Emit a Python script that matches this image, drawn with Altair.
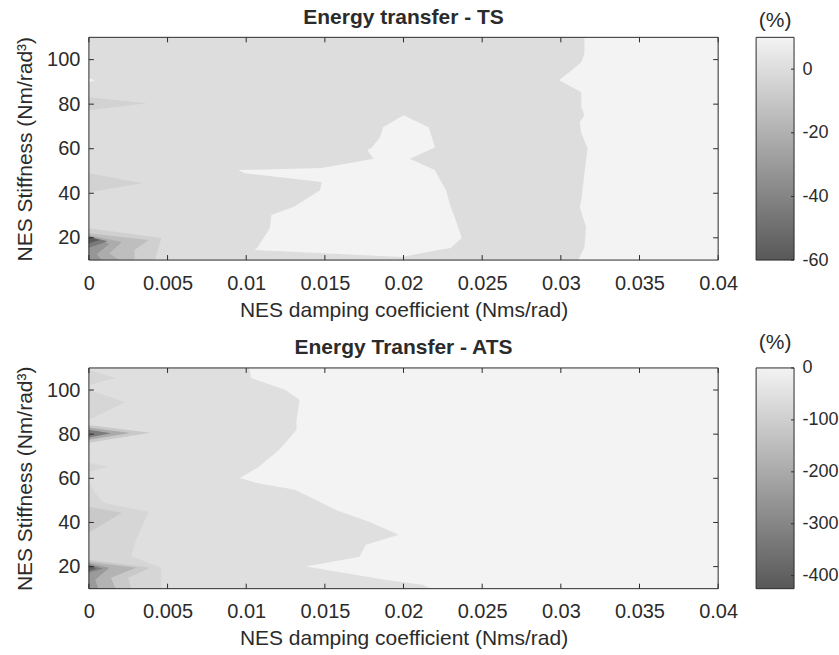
import altair as alt
import pandas as pd

FONT = "Liberation Sans"
INK = "#2b2b2b"
DARK, LIGHT = "#585858", "#f3f3f3"

# Shared axes
DAMPING_DOMAIN = [0, 0.04]
STIFF_DOMAIN = [10, 110]
X_TICKS = [0, 0.005, 0.01, 0.015, 0.02, 0.025, 0.03, 0.035, 0.04]
Y_TICKS = [20, 40, 60, 80, 100]

# Colour bar ranges (%)
TS_CBAR = [-60, 10]
TS_CBAR_TICKS = [0, -20, -40, -60]
ATS_CBAR = [-425, 0]
ATS_CBAR_TICKS = [0, -100, -200, -300, -400]

# ---- Energy transfer - TS : filled contour bands ----
# each band: stiffness breakpoints (k), damping extent, band value (%)
TS_BG_LEVEL = 0

TS_EDGE_K = [10, 15.8, 24.8, 29.3, 33.8, 36.9, 49.0, 60.2, 67.0, 71.9, 75.0,
             78.6, 85.3, 90.7, 98.8, 102.8, 110]
TS_EDGE_X = [0.0311, 0.0315, 0.0316, 0.0314, 0.0312, 0.0313, 0.0315, 0.0317,
             0.0313, 0.0312, 0.0315, 0.0313, 0.0313, 0.0299, 0.0313, 0.0315, 0.0315]
TS_EDGE_LEVEL = 10

TS_BLOB_K = [11.4, 14.5, 15.4, 19.9, 24.3, 30.2, 33.8, 41.4, 45.0, 49.0, 50.4,
             51.3, 55.5, 59.3, 60.7, 65.2, 69.6, 75.0]
TS_BLOB_LO = [0.0199, 0.0105, 0.0107, 0.0111, 0.0115, 0.0116, 0.0130, 0.0147,
              0.0148, 0.0099, 0.0095, 0.0148, 0.0181, 0.0177, 0.0180, 0.0185,
              0.0187, 0.0200]
TS_BLOB_HI = [0.0199, 0.0222, 0.0230, 0.0237, 0.0235, 0.0232, 0.0230, 0.0227,
              0.0224, 0.0221, 0.0220, 0.0217, 0.0204, 0.0216, 0.0220, 0.0218,
              0.0216, 0.0200]
TS_BLOB_LEVEL = 10

TS_NOTCH_K, TS_NOTCH_X, TS_NOTCH_LEVEL = [89.8, 90.7, 91.6], [0, 0.0004, 0], 10
TS_SPIKE80_K, TS_SPIKE80_X, TS_SPIKE80_LEVEL = [77.3, 80.4, 83.1], [0, 0.0037, 0], -5
TS_SPIKE45_K, TS_SPIKE45_X, TS_SPIKE45_LEVEL = [40.5, 44.5, 49.0], [0, 0.0034, 0], -5

TS_LOW1_K, TS_LOW1_X, TS_LOW1_LEVEL = [10, 19.9, 24.3], [0.0042, 0.0046, 0], -6
TS_LOW2_K, TS_LOW2_X, TS_LOW2_LEVEL = [10, 14.5, 19.0, 22.1], [0.0029, 0.0029, 0.0038, 0], -14
TS_LOW3_K, TS_LOW3_X, TS_LOW3_LEVEL = [10, 13.1, 18.1, 21.2], [0.0019, 0.0013, 0.0021, 0], -22
TS_LOW4_K, TS_LOW4_X, TS_LOW4_LEVEL = [10, 12.7, 17.2, 20.8], [0.0008, 0.0005, 0.0013, 0], -32
TS_LOW5_K, TS_LOW5_X, TS_LOW5_LEVEL = [15.5, 18.5, 20.6], [0, 0.0012, 0], -45
TS_LOW6_K, TS_LOW6_X, TS_LOW6_LEVEL = [17.5, 19.0, 20.3], [0, 0.0007, 0], -58

# ---- Energy Transfer - ATS : filled contour bands ----
ATS_BG_LEVEL = -55

ATS_EDGE_K = [10, 11.8, 14.1, 20.0, 24.5, 29.9, 34.4, 40.3, 45.7, 54.8, 58.0,
              60.2, 65.2, 72.9, 82.0, 86.5, 95.5, 100.0, 105.5, 110]
ATS_EDGE_X = [0.0218, 0.0212, 0.0188, 0.0138, 0.0172, 0.0176, 0.0197, 0.0178,
              0.0157, 0.0131, 0.0106, 0.0096, 0.0108, 0.0121, 0.0132, 0.0132,
              0.0134, 0.0125, 0.0103, 0.0102]
ATS_EDGE_LEVEL = 0

ATS_SIDE_K = [10, 19.5, 24.8, 32.2, 44.8, 48.9, 53.4, 58.0]
ATS_SIDE_X = [0.0046, 0.0046, 0.0027, 0.0030, 0.0038, 0.0009, 0.0004, 0]
ATS_SIDE_LEVEL = -80

ATS_S105_K, ATS_S105_X, ATS_S105_LEVEL = [102.3, 105.5, 109.1], [0, 0.0017, 0], -80
ATS_S95_K, ATS_S95_X, ATS_S95_LEVEL = [86.5, 94.6, 100.0], [0, 0.0023, 0], -80
ATS_S80A_K, ATS_S80A_X, ATS_S80A_LEVEL = [76.1, 80.6, 84.2], [0, 0.0039, 0], -115
ATS_S80B_K, ATS_S80B_X, ATS_S80B_LEVEL = [77.5, 80.5, 83.0], [0, 0.0026, 0], -200
ATS_S80C_K, ATS_S80C_X, ATS_S80C_LEVEL = [78.5, 80.4, 82.0], [0, 0.0014, 0], -330
ATS_S65_K, ATS_S65_X, ATS_S65_LEVEL = [62.9, 65.2, 67.0], [0, 0.0012, 0], -80
ATS_S45_K, ATS_S45_X, ATS_S45_LEVEL = [35.3, 44.4, 47.1], [0, 0.0021, 0], -115

ATS_LOW1_K, ATS_LOW1_X, ATS_LOW1_LEVEL = [10, 15.0, 19.5, 23.1], [0.0027, 0.0025, 0.0039, 0], -115
ATS_LOW2_K, ATS_LOW2_X, ATS_LOW2_LEVEL = [10, 15.0, 19.5, 22.2], [0.0017, 0.0014, 0.0030, 0], -175
ATS_LOW3_K, ATS_LOW3_X, ATS_LOW3_LEVEL = [10, 14.1, 19.5, 21.5], [0.0006, 0.0004, 0.0013, 0], -245
ATS_LOW4_K, ATS_LOW4_X, ATS_LOW4_LEVEL = [17.3, 19.0, 20.9], [0, 0.0009, 0], -320
ATS_LOW5_K, ATS_LOW5_X, ATS_LOW5_LEVEL = [18.0, 19.3, 20.5], [0, 0.0005, 0], -400

PLOT_W = 630
TS_H, ATS_H = 223, 221
CB_W = 38
TICK = 5
LABEL_FS = 20
TITLE_FS = 21


def x_scale():
    return alt.Scale(domain=DAMPING_DOMAIN, nice=False, zero=False)


def y_scale():
    return alt.Scale(domain=STIFF_DOMAIN, nice=False, zero=False)


X_AXIS = alt.Axis(title="NES damping coefficient (Nms/rad)", values=X_TICKS,
                  labelExpr="'' + datum.value", ticks=False, tickSize=0,
                  labelFlush=False, domain=False, grid=False,
                  labelPadding=13, titlePadding=6)
Y_AXIS = alt.Axis(title="NES Stiffness (Nm/rad³)", values=Y_TICKS,
                  labelExpr="'' + datum.value", ticks=False, tickSize=0,
                  labelFlush=False, domain=False, grid=False,
                  labelPadding=9, titlePadding=11)


def band(k, lo, hi, level, cdomain):
    df = pd.DataFrame({"k": k, "lo": lo, "hi": hi, "level": [level] * len(k)})
    return alt.Chart(df).mark_area(orient="horizontal", interpolate="linear").encode(
        y=alt.Y("k:Q", scale=y_scale(), axis=Y_AXIS),
        x=alt.X("lo:Q", scale=x_scale(), axis=X_AXIS, stack=None),
        x2="hi:Q",
        color=alt.Color("level:Q", legend=None,
                        scale=alt.Scale(domain=cdomain, range=[DARK, LIGHT],
                                        interpolate="rgb")),
    )


def spike(k, x, level, cdomain):
    return band(k, [0] * len(k), x, level, cdomain)


def frame_layers(h):
    xt = pd.DataFrame({"v": X_TICKS})
    yt = pd.DataFrame({"v": Y_TICKS})
    xs = alt.X("v:Q", scale=x_scale(), axis=X_AXIS)
    ys = alt.Y("v:Q", scale=y_scale(), axis=Y_AXIS)
    rule_x = alt.Chart(xt).mark_rule(color=INK, strokeWidth=1)
    rule_y = alt.Chart(yt).mark_rule(color=INK, strokeWidth=1)
    box = alt.Chart(pd.DataFrame({"v": [0]})).mark_rect(
        filled=False, fillOpacity=0, stroke=INK, strokeWidth=1
    ).encode(x=alt.value(0), x2=alt.value(PLOT_W), y=alt.value(0), y2=alt.value(h))
    return [
        rule_x.encode(x=xs, y=alt.value(h), y2=alt.value(h - TICK)),
        rule_x.encode(x=xs, y=alt.value(0), y2=alt.value(TICK)),
        rule_y.encode(y=ys, x=alt.value(0), x2=alt.value(TICK)),
        rule_y.encode(y=ys, x=alt.value(PLOT_W - TICK), x2=alt.value(PLOT_W)),
        box,
    ]


def colorbar(domain, ticks, h):
    df = pd.DataFrame({"lo": [domain[0]], "hi": [domain[1]]})
    grad = alt.LinearGradient(
        gradient="linear",
        stops=[alt.GradientStop(color=DARK, offset=0),
               alt.GradientStop(color=LIGHT, offset=1)],
        x1=0, x2=0, y1=1, y2=0,
    )
    ysc = alt.Scale(domain=domain, nice=False, zero=False)
    cax = alt.Axis(orient="right", values=ticks, title=None, ticks=False,
                   tickSize=0, labelFlush=False, domain=False, grid=False,
                   labelPadding=8, labelFontSize=18,
                   labelExpr="'' + datum.value")
    bar = alt.Chart(df).mark_rect(fill=grad, stroke=INK, strokeWidth=1).encode(
        y=alt.Y("lo:Q", scale=ysc, axis=cax),
        y2="hi:Q",
        x=alt.value(0),
        x2=alt.value(CB_W),
    )
    marks = alt.Chart(pd.DataFrame({"v": ticks})).mark_rule(color=INK).encode(
        y=alt.Y("v:Q", scale=ysc, axis=cax),
        x=alt.value(CB_W - 3),
        x2=alt.value(CB_W),
    )
    return alt.layer(bar, marks).properties(
        width=CB_W, height=h,
        title=alt.Title("(%)", fontSize=TITLE_FS, fontWeight="normal", offset=6),
    )


# ---- top panel ----
tsd = TS_CBAR
ts_layers = [
    band([10, 110], [0, 0], [0.04, 0.04], TS_BG_LEVEL, tsd),
    band(TS_EDGE_K, TS_EDGE_X, [0.04] * len(TS_EDGE_K), TS_EDGE_LEVEL, tsd),
    band(TS_BLOB_K, TS_BLOB_LO, TS_BLOB_HI, TS_BLOB_LEVEL, tsd),
    spike(TS_NOTCH_K, TS_NOTCH_X, TS_NOTCH_LEVEL, tsd),
    spike(TS_SPIKE80_K, TS_SPIKE80_X, TS_SPIKE80_LEVEL, tsd),
    spike(TS_SPIKE45_K, TS_SPIKE45_X, TS_SPIKE45_LEVEL, tsd),
    spike(TS_LOW1_K, TS_LOW1_X, TS_LOW1_LEVEL, tsd),
    spike(TS_LOW2_K, TS_LOW2_X, TS_LOW2_LEVEL, tsd),
    spike(TS_LOW3_K, TS_LOW3_X, TS_LOW3_LEVEL, tsd),
    spike(TS_LOW4_K, TS_LOW4_X, TS_LOW4_LEVEL, tsd),
    spike(TS_LOW5_K, TS_LOW5_X, TS_LOW5_LEVEL, tsd),
    spike(TS_LOW6_K, TS_LOW6_X, TS_LOW6_LEVEL, tsd),
] + frame_layers(TS_H)

ts_plot = alt.layer(*ts_layers).properties(
    width=PLOT_W, height=TS_H,
    title=alt.Title("Energy transfer - TS", fontSize=TITLE_FS, fontWeight="bold",
                    offset=8),
)

# ---- bottom panel ----
atd = ATS_CBAR
ats_layers = [
    band([10, 110], [0, 0], [0.04, 0.04], ATS_BG_LEVEL, atd),
    band(ATS_EDGE_K, ATS_EDGE_X, [0.04] * len(ATS_EDGE_K), ATS_EDGE_LEVEL, atd),
    spike(ATS_SIDE_K, ATS_SIDE_X, ATS_SIDE_LEVEL, atd),
    spike(ATS_S105_K, ATS_S105_X, ATS_S105_LEVEL, atd),
    spike(ATS_S95_K, ATS_S95_X, ATS_S95_LEVEL, atd),
    spike(ATS_S80A_K, ATS_S80A_X, ATS_S80A_LEVEL, atd),
    spike(ATS_S80B_K, ATS_S80B_X, ATS_S80B_LEVEL, atd),
    spike(ATS_S80C_K, ATS_S80C_X, ATS_S80C_LEVEL, atd),
    spike(ATS_S65_K, ATS_S65_X, ATS_S65_LEVEL, atd),
    spike(ATS_S45_K, ATS_S45_X, ATS_S45_LEVEL, atd),
    spike(ATS_LOW1_K, ATS_LOW1_X, ATS_LOW1_LEVEL, atd),
    spike(ATS_LOW2_K, ATS_LOW2_X, ATS_LOW2_LEVEL, atd),
    spike(ATS_LOW3_K, ATS_LOW3_X, ATS_LOW3_LEVEL, atd),
    spike(ATS_LOW4_K, ATS_LOW4_X, ATS_LOW4_LEVEL, atd),
    spike(ATS_LOW5_K, ATS_LOW5_X, ATS_LOW5_LEVEL, atd),
] + frame_layers(ATS_H)

ats_plot = alt.layer(*ats_layers).properties(
    width=PLOT_W, height=ATS_H,
    title=alt.Title("Energy Transfer - ATS", fontSize=TITLE_FS, fontWeight="bold",
                    offset=8),
)

chart = (
    alt.concat(
        ts_plot, colorbar(TS_CBAR, TS_CBAR_TICKS, TS_H),
        ats_plot, colorbar(ATS_CBAR, ATS_CBAR_TICKS, ATS_H),
        columns=2, spacing={"row": 108, "column": 38}, bounds="flush",
    )
    .resolve_scale(x="independent", y="independent", color="independent")
    .properties(padding={"left": 14, "top": 7, "right": 0, "bottom": 2},
                background="white")
    .configure(font=FONT)
    .configure_axis(labelFont=FONT, titleFont=FONT, labelFontSize=LABEL_FS,
                    titleFontSize=TITLE_FS, titleFontWeight="normal",
                    labelColor=INK, titleColor=INK)
    .configure_title(font=FONT, color=INK, anchor="middle")
    .configure_view(stroke=None)
)

chart.save("out.html", embed_options={"renderer": "svg", "actions": False})
